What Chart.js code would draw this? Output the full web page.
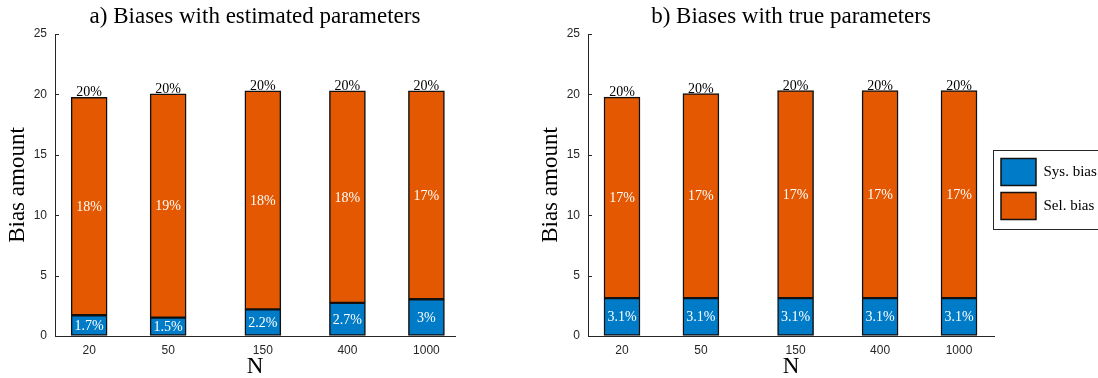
<!DOCTYPE html>
<html>
<head>
<meta charset="utf-8">
<script src="https://cdn.jsdelivr.net/npm/chart.js@4"></script>
<style>
  html, body { margin: 0; padding: 0; background: #fff; overflow: hidden; }
  body { width: 1098px; height: 378px; position: relative; }
  .panel { position: absolute; top: 0; height: 378px; }
  #wrapA { left: 0; width: 520px; }
  #wrapB { left: 533px; width: 566px; }
</style>
</head>
<body>
<div class="panel" id="wrapA"><canvas id="chartA"></canvas></div>
<div class="panel" id="wrapB"><canvas id="chartB"></canvas></div>
<script>
// ---- data ----
const sampleSizes = [20, 50, 150, 400, 1000];
const sysBiasEst  = [1.72, 1.52, 2.2, 2.74, 3.04];
const selBiasEst  = [18.03, 18.53, 18.1, 17.56, 17.26];
const sysBiasTrue = [3.14, 3.14, 3.14, 3.14, 3.14];
const selBiasTrue = [16.63, 16.93, 17.18, 17.18, 17.18];
const seriesNames = ['Sys. bias', 'Sel. bias'];

const BLUE = '#007BC8';
const ORANGE = '#E35800';
const AXIS = '#262626';
const SERIF = '"Liberation Serif", "Times New Roman", serif';

Chart.defaults.font.family = '"Liberation Sans", Arial, sans-serif';

// MATLAB num2str(v, 2) style
function fmt(v) { return String(Number(v.toPrecision(2))); }

// ---- percent labels inside / above bars ----
const barLabels = {
  id: 'barLabels',
  afterDatasetsDraw(chart) {
    const ctx = chart.ctx;
    const sets = chart.data.datasets;
    ctx.save();
    ctx.font = '14px ' + SERIF;
    ctx.textAlign = 'center';
    sets.forEach((ds, i) => {
      chart.getDatasetMeta(i).data.forEach((bar, j) => {
        ctx.fillStyle = '#fff';
        ctx.textBaseline = 'middle';
        ctx.fillText(fmt(ds.data[j].y) + '%', bar.x, (bar.y + bar.base) / 2 + 1);
      });
    });
    const top = chart.getDatasetMeta(sets.length - 1);
    top.data.forEach((bar, j) => {
      const total = sets.reduce((s, ds) => s + ds.data[j].y, 0);
      ctx.fillStyle = '#000';
      ctx.textBaseline = 'alphabetic';
      ctx.fillText(fmt(total) + '%', bar.x, bar.y - 1);
    });
    ctx.restore();
  }
};

// ---- inward y ticks, MATLAB style ----
const innerTicks = {
  id: 'innerTicks',
  afterDraw(chart) {
    const y = chart.scales.y, ctx = chart.ctx, left = chart.chartArea.left;
    ctx.save();
    ctx.strokeStyle = AXIS;
    ctx.lineWidth = 1;
    y.ticks.forEach(t => {
      const py = Math.round(y.getPixelForValue(t.value)) + 0.5;
      ctx.beginPath(); ctx.moveTo(left, py); ctx.lineTo(left + 4, py); ctx.stroke();
    });
    ctx.restore();
  }
};

// ---- frame round the legend ----
const legendFrame = {
  id: 'legendFrame',
  afterDraw(chart) {
    const lg = chart.legend;
    if (!lg || !lg.options.display || !lg.legendHitBoxes.length) return;
    const boxes = lg.legendHitBoxes;
    const top = boxes[0].top - 9;
    const bottom = boxes[boxes.length - 1].top + boxes[boxes.length - 1].height + 9;
    const ctx = chart.ctx;
    ctx.save();
    ctx.strokeStyle = AXIS;
    ctx.lineWidth = 1;
    ctx.strokeRect(Math.round(lg.left) - 0.5, Math.round(top) + 0.5, chart.width, Math.round(bottom - top));
    ctx.restore();
  }
};

function makeChart(canvasId, title, sys, sel, opts) {
  const pts = vals => sampleSizes.map((n, i) => ({ x: n, y: vals[i] }));
  return new Chart(document.getElementById(canvasId), {
    type: 'bar',
    data: {
      datasets: [
        { label: seriesNames[0], data: pts(sys), backgroundColor: BLUE, borderColor: '#111', borderWidth: 1.5, borderSkipped: false, barThickness: 36 },
        { label: seriesNames[1], data: pts(sel), backgroundColor: ORANGE, borderColor: '#111', borderWidth: 1.5, borderSkipped: false, barThickness: 36 }
      ]
    },
    options: {
      responsive: true,
      maintainAspectRatio: false,
      animation: false,
      layout: { padding: { left: 0, right: opts.padRight, top: 0, bottom: 0 } },
      plugins: {
        title: {
          display: true,
          text: title,
          fullSize: false,
          color: '#000',
          font: { family: SERIF, size: 23, weight: 'normal', lineHeight: 1.2 },
          padding: { top: 3, bottom: 3.4 }
        },
        legend: {
          display: opts.legend,
          position: 'right',
          align: 'center',
          maxWidth: 105,
          labels: {
            boxWidth: 35,
            boxHeight: 27,
            padding: 7,
            color: '#000',
            font: { family: SERIF, size: 15 }
          }
        },
        tooltip: { enabled: false }
      },
      scales: {
        x: {
          type: 'logarithmic',
          stacked: true,
          min: opts.xMin,
          max: opts.xMax,
          afterBuildTicks: s => { s.ticks = sampleSizes.map(v => ({ value: v })); },
          afterFit: s => { s.height = 42; },
          grid: { drawOnChartArea: false, drawTicks: false },
          border: { color: AXIS, width: 1 },
          ticks: { color: AXIS, font: { size: 12 }, padding: 7, autoSkip: false, maxRotation: 0, callback: v => String(v) },
          title: { display: true, text: 'N', color: '#000', font: { family: SERIF, size: 23, lineHeight: 1 }, padding: { top: 0, bottom: 0 } }
        },
        y: {
          stacked: true,
          min: 0,
          max: 25,
          afterFit: s => { s.width = 55; },
          grid: { drawOnChartArea: false, drawTicks: false },
          border: { color: AXIS, width: 1 },
          ticks: { stepSize: 5, color: AXIS, font: { size: 12 }, padding: 8 },
          title: { display: true, text: 'Bias amount', color: '#000', font: { family: SERIF, size: 23, lineHeight: 1 }, padding: { top: 6.5, bottom: 0 } }
        }
      }
    },
    plugins: [barLabels, innerTicks, legendFrame]
  });
}

makeChart('chartA', 'a) Biases with estimated parameters', sysBiasEst, selBiasEst,
  { padRight: 65, legend: false, xMin: 13.46, xMax: 1393 });
makeChart('chartB', 'b) Biases with true parameters', sysBiasTrue, selBiasTrue,
  { padRight: 0, legend: true, xMin: 13.48, xMax: 1501 });
</script>
</body>
</html>
